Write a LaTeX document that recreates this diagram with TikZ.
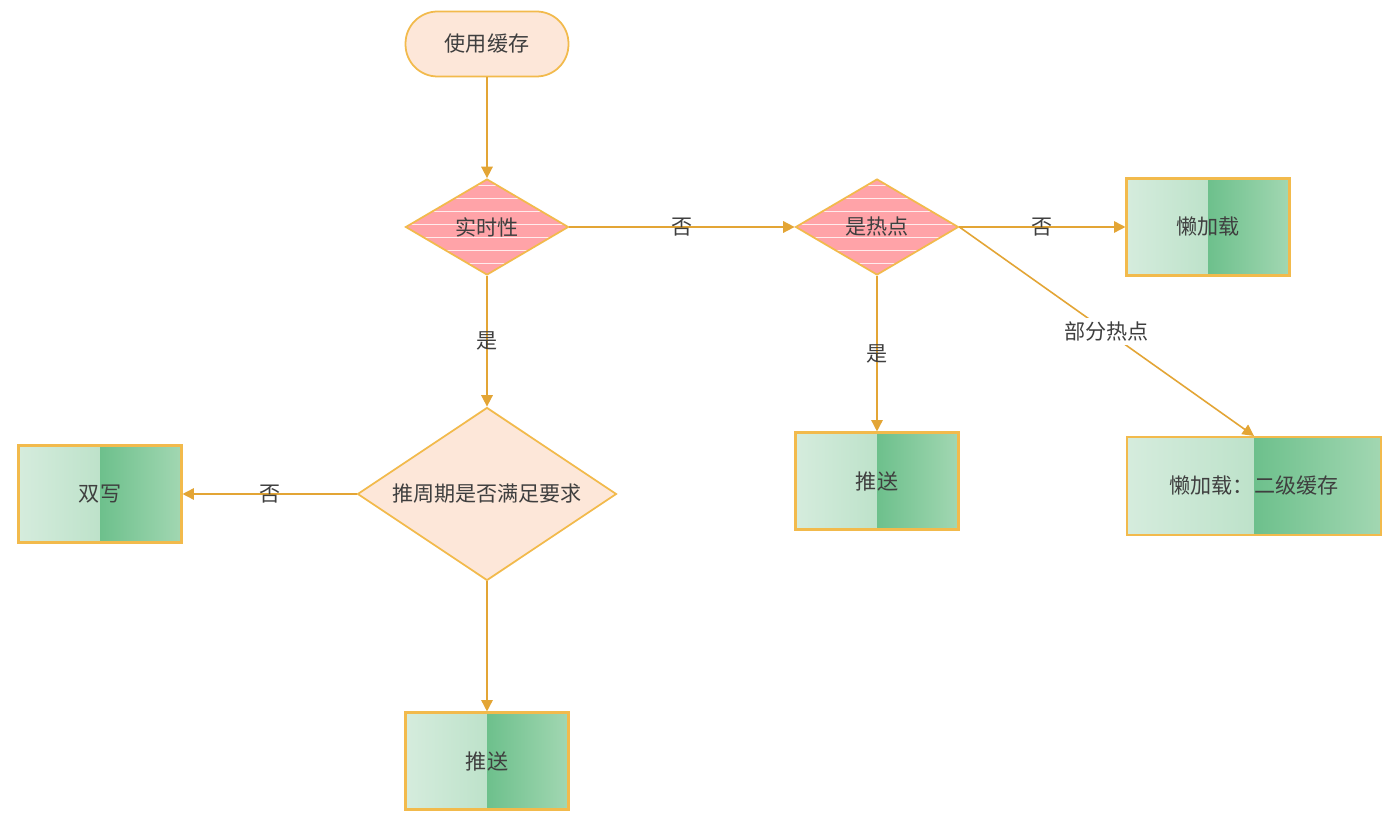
\documentclass[tikz,border=0pt]{standalone}
\usepackage{fontspec}
\setmainfont{Noto Sans CJK SC}
\usetikzlibrary{shapes.geometric, arrows.meta}

\definecolor{edgeclr}{HTML}{E3A535}
\definecolor{rimclr}{HTML}{F2BA4C}
\definecolor{peach}{HTML}{FDE7D9}
\definecolor{pinkfill}{HTML}{FFA3A8}
\definecolor{txtclr}{HTML}{3F3F3F}
\definecolor{gA}{HTML}{D5ECDD}
\definecolor{gB}{HTML}{A6D8B7}
\definecolor{gC}{HTML}{6DC08C}
\definecolor{gD}{HTML}{A2D7B2}

\begin{document}
\begin{tikzpicture}[x=0.02cm, y=-0.02cm, >={Triangle[length=6.5pt,width=6.5pt]},
  every node/.style={text=txtclr, font=\fontsize{12}{14}\selectfont},
  startbox/.style={draw=rimclr, fill=peach, line width=1pt, rounded corners=0.64cm,
    minimum width=3.26cm, minimum height=1.3cm},
  pinkdiamond/.style={diamond, aspect=1.7, draw=rimclr, fill=pinkfill, line width=1pt,
    inner sep=0pt, minimum width=3.26cm, minimum height=1.92cm,
    path picture={\foreach \k in {-3,...,3}
      \draw[white, line width=0.5pt, opacity=0.8]
        ([yshift=\k*0.26cm+0.06cm]path picture bounding box.west) --
        ([yshift=\k*0.26cm+0.06cm]path picture bounding box.east);}},
  peachdiamond/.style={diamond, aspect=1.5, draw=rimclr, fill=peach, line width=1pt,
    inner sep=0pt, minimum width=5.18cm, minimum height=3.46cm},
  greenbox/.style={draw=rimclr, line width=1.2pt, minimum width=3.26cm, minimum height=1.94cm,
    path picture={
      \path[left color=gA, right color=gB] (path picture bounding box.south west)
        rectangle (path picture bounding box.north);
      \path[left color=gC, right color=gD] (path picture bounding box.south)
        rectangle (path picture bounding box.north east);}},
  flow/.style={draw=edgeclr, line width=0.9pt, ->},
  tag/.style={inner sep=2pt}]
  \useasboundingbox[fill=white] (0,0) rectangle (1400,820);

  % nodes
  \node[startbox] (start) at (487,44) {使用缓存};
  \node[pinkdiamond] (realtime) at (487,227) {实时性};
  \node[pinkdiamond] (hot) at (877,227) {是热点};
  \node[greenbox] (lazy) at (1208,227) {懒加载};
  \node[peachdiamond] (period) at (487,494) {推周期是否满足要求};
  \node[greenbox] (dual) at (100,494) {双写};
  \node[greenbox] (pushA) at (487,761) {推送};
  \node[greenbox] (pushB) at (877,481) {推送};
  \node[greenbox, minimum width=5.08cm, minimum height=1.96cm] (lazytwo) at (1254,486) {懒加载：二级缓存};

  % connectors
  \draw[flow] (start) -- (realtime);
  \draw[flow] (realtime) -- node[tag] {否} (hot);
  \draw[flow] (realtime) -- node[tag] {是} (period);
  \draw[flow] (hot) -- node[tag] {否} (lazy);
  \draw[flow] (hot) -- node[tag] {是} (pushB);
  \draw[flow] (hot.east) -- node[tag, fill=white] {部分热点} (lazytwo.north);
  \draw[flow] (period) -- node[tag] {否} (dual);
  \draw[flow] (period) -- (pushA);
\end{tikzpicture}
\end{document}
